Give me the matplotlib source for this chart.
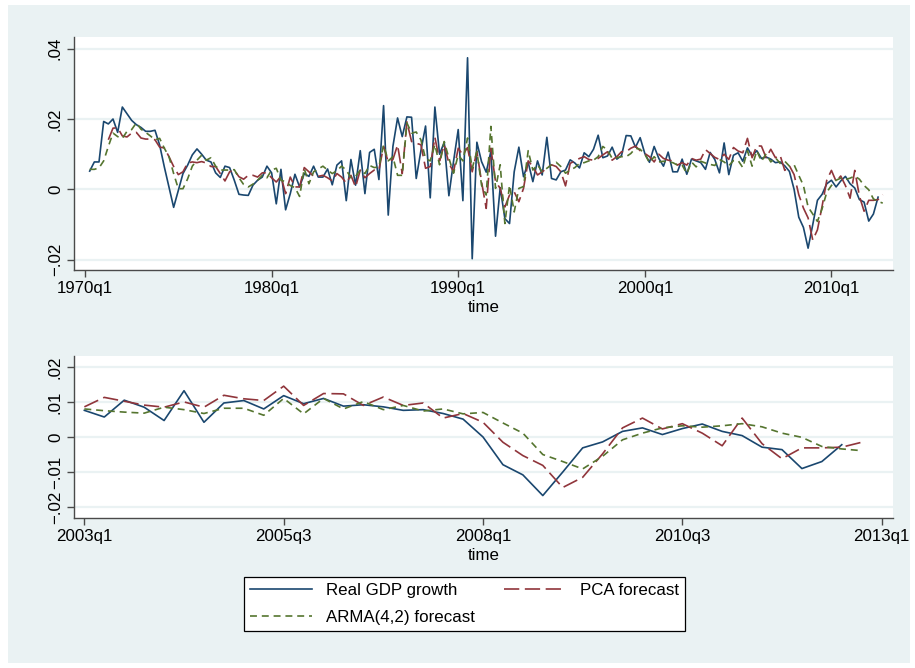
import matplotlib
matplotlib.use("Agg")
import matplotlib.pyplot as plt
import numpy as np
from matplotlib.patches import Rectangle

# quarter index: 0 = 1960q1 (Stata %tq style)
gdp_start = 41   # 1970q2
pca_start = 45   # 1971q2
arma_start = 41  # 1970q2

gdp = [0.0052, 0.0078, 0.0078, 0.0193, 0.0186, 0.0200, 0.0162, 0.0234, 0.0215, 0.0196,
       0.0184, 0.0176, 0.0165, 0.0165, 0.0168, 0.0126, 0.0064, 0.0007, -0.0051, -0.0003,
       0.0045, 0.0069, 0.0098, 0.0115, 0.0100, 0.0083, 0.0078, 0.0047, 0.0034, 0.0066,
       0.0062, 0.0026, -0.0014, -0.0016, -0.0017,
       0.0012, 0.0026, 0.0035, 0.0066, 0.0047, -0.0041, 0.0057, -0.0058, -0.0012, 0.0043,
       0.0007, 0.0045, 0.0037, 0.0066, 0.0035, 0.0035, 0.0058, 0.0013, 0.0069, 0.0081,
       -0.0032, 0.0085, 0.0012, 0.0110, -0.0012, 0.0105, 0.0114, 0.0028, 0.0238, -0.0073,
       0.0122, 0.0203, 0.0150, 0.0206, 0.0205,
       0.0031, 0.0110, 0.0180, -0.0024, 0.0234, 0.0100, 0.0134, -0.0018, 0.0080, 0.0170,
       -0.0032, 0.0374, -0.0197, 0.0134, 0.0079, 0.0049, 0.0108, -0.0133, 0.0005, -0.0083,
       -0.0097, 0.0050, 0.0120, 0.0036, 0.0077, 0.0022, 0.0081, 0.0041, 0.0148, 0.0031,
       0.0027, 0.0050, 0.0055, 0.0084,
       0.0075, 0.0061, 0.0104, 0.0093, 0.0114, 0.0154, 0.0090, 0.0095, 0.0120, 0.0086,
       0.0096, 0.0153, 0.0152, 0.0120, 0.0147, 0.0102, 0.0077, 0.0122, 0.0088, 0.0066,
       0.0106, 0.0050, 0.0050, 0.0086, 0.0043, 0.0086, 0.0081,
       0.0076, 0.0057, 0.0105, 0.0085, 0.0047, 0.0132, 0.0042, 0.0097, 0.0104, 0.0080,
       0.0118, 0.0095, 0.0110, 0.0088, 0.0092, 0.0086, 0.0076, 0.0078, 0.0067, 0.0051,
       0.0000, -0.0079, -0.0108, -0.0167, -0.0100, -0.0031, -0.0014, 0.0016, 0.0026, 0.0007,
       0.0024, 0.0037, 0.0016, 0.0004, -0.0029, -0.0036, -0.0090, -0.0070, -0.0022]

pca = [0.0141, 0.0174, 0.0175, 0.0152, 0.0149, 0.0160, 0.0162, 0.0146, 0.0143, 0.0143,
       0.0141, 0.0120, 0.0118, 0.0093, 0.0065, 0.0042, 0.0050, 0.0075, 0.0078, 0.0076,
       0.0079, 0.0075, 0.0065, 0.0065, 0.0045, 0.0024, 0.0050, 0.0055, 0.0036, 0.0029,
       0.0040,
       0.0040, 0.0035, 0.0047, 0.0047, 0.0033, 0.0021, 0.0037, -0.0012, 0.0035, 0.0007,
       0.0007, 0.0062, 0.0050, 0.0037, 0.0037, 0.0040, 0.0033, 0.0024, 0.0045, 0.0035,
       0.0018, 0.0040, 0.0007, 0.0055, 0.0033, 0.0045, 0.0055, 0.0055, 0.0122, 0.0078,
       0.0085, 0.0126, 0.0045, 0.0192, 0.0136,
       0.0131, 0.0127, 0.0060, 0.0065, 0.0148, 0.0081, 0.0127, 0.0074, 0.0050, 0.0117,
       0.0098, 0.0119, 0.0050, 0.0108, 0.0022, -0.0054, 0.0117, 0.0022, 0.0003, -0.0050,
       -0.0016, -0.0007, -0.0035, 0.0003, 0.0081, 0.0065, 0.0041, 0.0050, 0.0060, 0.0070,
       0.0065, 0.0050, 0.0010, 0.0074,
       0.0081, 0.0088, 0.0093, 0.0085, 0.0083, 0.0088, 0.0098, 0.0107, 0.0083, 0.0093,
       0.0107, 0.0107, 0.0117, 0.0123, 0.0110, 0.0102, 0.0093, 0.0078, 0.0100, 0.0088,
       0.0083, 0.0081, 0.0069, 0.0076, 0.0069, 0.0088, 0.0083,
       0.0086, 0.0113, 0.0102, 0.0091, 0.0085, 0.0100, 0.0085, 0.0119, 0.0109, 0.0104,
       0.0145, 0.0090, 0.0124, 0.0123, 0.0090, 0.0114, 0.0090, 0.0097, 0.0054, 0.0067,
       0.0042, -0.0015, -0.0053, -0.0081, -0.0144, -0.0115, -0.0048, 0.0026, 0.0054, 0.0023,
       0.0038, 0.0011, -0.0025, 0.0054, -0.0019, -0.0062, -0.0031, -0.0031, -0.0029, -0.0015]

arma = [0.0057, 0.0057, 0.0061, 0.0081, 0.0122, 0.0160, 0.0150, 0.0145, 0.0165, 0.0170,
        0.0189, 0.0171, 0.0162, 0.0152, 0.0141, 0.0145, 0.0117, 0.0093, 0.0045, 0.0002,
        0.0002, 0.0030, 0.0066, 0.0083, 0.0097, 0.0083, 0.0090, 0.0066, 0.0055, 0.0055,
        0.0055, 0.0056, 0.0033, 0.0014, 0.0007,
        0.0015, 0.0026, 0.0040, 0.0033, 0.0055, 0.0060, 0.0026, 0.0022, 0.0011, 0.0005,
        -0.0020, 0.0059, 0.0016, 0.0050, 0.0058, 0.0066, 0.0055, 0.0045, 0.0053, 0.0066,
        0.0055, 0.0033, 0.0037, 0.0055, 0.0045, 0.0068, 0.0062, 0.0064, 0.0126, 0.0081,
        0.0093, 0.0040, 0.0040, 0.0189, 0.0160,
        0.0163, 0.0141, 0.0087, 0.0081, 0.0127, 0.0070, 0.0136, 0.0089, 0.0046, 0.0098,
        0.0081, 0.0146, 0.0060, 0.0108, 0.0012, -0.0016, 0.0179, 0.0003, 0.0070, -0.0097,
        0.0012, -0.0064, 0.0003, 0.0008, 0.0110, 0.0055, 0.0070, 0.0050, 0.0060, 0.0070,
        0.0077, 0.0065, 0.0046, 0.0055,
        0.0062, 0.0074, 0.0076, 0.0081, 0.0083, 0.0093, 0.0122, 0.0112, 0.0088, 0.0090,
        0.0093, 0.0093, 0.0102, 0.0117, 0.0114, 0.0100, 0.0076, 0.0093, 0.0078, 0.0080,
        0.0078, 0.0076, 0.0069, 0.0069, 0.0045, 0.0078, 0.0064,
        0.0080, 0.0075, 0.0071, 0.0068, 0.0085, 0.0078, 0.0067, 0.0082, 0.0082, 0.0062,
        0.0110, 0.0066, 0.0110, 0.0080, 0.0101, 0.0078, 0.0090, 0.0074, 0.0080, 0.0066,
        0.0070, 0.0040, 0.0011, -0.0050, -0.0070, -0.0091, -0.0055, -0.0008, 0.0011, 0.0026,
        0.0032, 0.0028, 0.0032, 0.0038, 0.0029, 0.0011, -0.0001, -0.0027, -0.0034, -0.0039]

top_xticks = [40, 80, 120, 160, 200]
bot_xticks = [172, 182, 192, 202, 212]
top_yticks = [-0.02, 0.0, 0.02, 0.04]
top_ylabels = ["\u2212.02", "0", ".02", ".04"]
bot_yticks = [-0.02, -0.01, 0.0, 0.01, 0.02]
bot_ylabels = ["\u2212.02", "\u2212.01", "0", ".01", ".02"]
zoom_from = 172  # 2003q1

navy = "#1a476f"
maroon = "#90353b"
green = "#55752f"
bg = "#eaf2f3"
fs = 12.2


def qlabel(q):
    return "%dq%d" % (1960 + q // 4, q % 4 + 1)


plt.rcParams["font.family"] = ["Liberation Sans", "DejaVu Sans"]
plt.rcParams["lines.scale_dashes"] = False

fig = plt.figure(figsize=(9.15, 6.68), dpi=100, facecolor="white")
fig.patches.append(Rectangle((8 / 915, 1 - 663 / 668), 902 / 915, 658 / 668,
                             transform=fig.transFigure, facecolor=bg,
                             edgecolor="none", zorder=-10))

ax1 = fig.add_axes([74 / 915, 1 - 270 / 668, 819 / 915, 233 / 668])
ax2 = fig.add_axes([74 / 915, 1 - 518 / 668, 819 / 915, 162 / 668])

x_gdp = np.arange(gdp_start, gdp_start + len(gdp))
x_pca = np.arange(pca_start, pca_start + len(pca))
x_arma = np.arange(arma_start, arma_start + len(arma))
gdp_a, pca_a, arma_a = np.array(gdp), np.array(pca), np.array(arma)


def draw(ax, lo):
    mg, mp, ma = x_gdp >= lo, x_pca >= lo, x_arma >= lo
    ax.plot(x_gdp[mg], gdp_a[mg], color=navy, lw=1.2, label="Real GDP growth")
    # ARMA drawn above PCA like the original
    ax.plot(x_arma[ma], arma_a[ma], color=green, lw=1.2, dashes=(5, 3.5),
            label="ARMA(4,2) forecast", zorder=3)
    ax.plot(x_pca[mp], pca_a[mp], color=maroon, lw=1.2, dashes=(11, 4),
            label="PCA forecast")


draw(ax1, 0)
draw(ax2, zoom_from)

ax1.set_xlim(37.64, 213.2)
ax1.set_ylim(-0.0229, 0.0433)
ax2.set_xlim(171.48, 212.57)
ax2.set_ylim(-0.0231, 0.0231)

for ax, xt, yt, yl in ((ax1, top_xticks, top_yticks, top_ylabels),
                       (ax2, bot_xticks, bot_yticks, bot_ylabels)):
    ax.set_facecolor("white")
    ax.set_xticks(xt)
    ax.set_xticklabels([qlabel(q) for q in xt])
    ax.set_yticks(yt)
    ax.set_yticklabels(yl, rotation=90, va="center")
    ax.yaxis.grid(True, color=bg, lw=1.6)
    ax.set_axisbelow(True)
    for s in ("top", "right"):
        ax.spines[s].set_visible(False)
    for s in ("left", "bottom"):
        ax.spines[s].set_color("#4a4a4a")
        ax.spines[s].set_linewidth(1.0)
    ax.tick_params(axis="both", colors="#4a4a4a", labelcolor="black",
                   labelsize=fs, length=5, width=1.0, pad=3)
    ax.set_xlabel("time", fontsize=fs, labelpad=3)

handles, labels = ax1.get_legend_handles_labels()
leg = fig.legend(handles, labels, loc="center", bbox_to_anchor=(0.5077, 0.0958),
                 ncol=2, fontsize=fs, frameon=True, fancybox=False,
                 edgecolor="black", facecolor="white", framealpha=1,
                 handlelength=3.65, handletextpad=0.85, columnspacing=1.7,
                 labelspacing=0.75, borderpad=0.35)
leg.get_frame().set_linewidth(0.9)

fig.savefig("out.png", dpi=100, facecolor="white")
